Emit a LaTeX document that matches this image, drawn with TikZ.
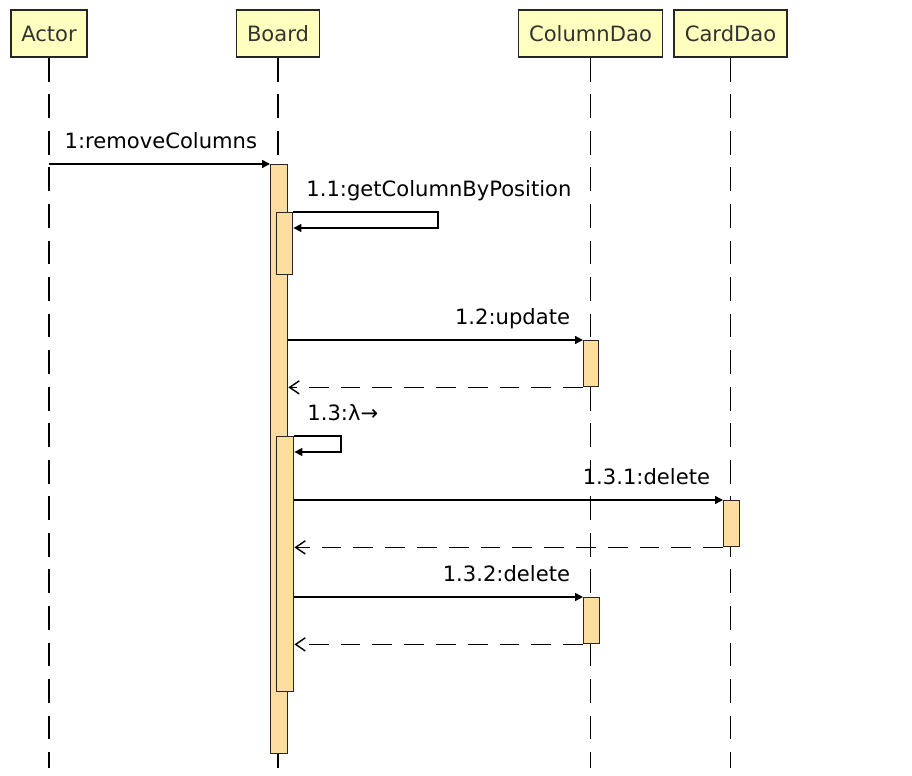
\documentclass[tikz,border=0pt]{standalone}
\usepackage{fontspec}
\setmainfont{DejaVu Sans}
\usetikzlibrary{arrows.meta}
\definecolor{hdrfill}{RGB}{255,255,192}
\definecolor{actfill}{RGB}{254,222,160}
\definecolor{hdrtext}{RGB}{51,51,51}

\begin{document}
\begin{tikzpicture}[x=0.02cm,y=-0.02cm,
  hdr/.style={draw=black!85,fill=hdrfill,text=hdrtext,line width=0.9pt,minimum height=0.94cm,inner xsep=6pt,font=\fontsize{12}{14}\selectfont},
  life/.style={line width=1pt,dash pattern=on 13.6pt off 7.2pt},
  act/.style={draw=black!85,fill=actfill,line width=0.8pt,inner sep=0pt,minimum width=0.32cm,anchor=north west},
  msg/.style={line width=0.8pt,-{Triangle[length=4.5pt,width=4.5pt]}},
  ret/.style={line width=0.8pt,dash pattern=on 11.3pt off 6.8pt,-{Straight Barb[length=5.5pt,width=7.5pt]}},
  lbll/.style={font=\fontsize{12}{14}\selectfont,inner sep=0pt,anchor=base east,xshift=-7pt,yshift=9pt},
  lblr/.style={font=\fontsize{12}{14}\selectfont,inner sep=0pt,anchor=base west,xshift=7pt,yshift=9pt}]

  \useasboundingbox (0,0) rectangle (912,776);

  \node[hdr] (actor) at (49,33.5) {Actor};
  \node[hdr] (board) at (278,33.5) {Board};
  \node[hdr] (coldao) at (590.5,33.5) {ColumnDao};
  \node[hdr] (carddao) at (730.5,33.5) {CardDao};

  \coordinate (bot) at (0,768);
  \foreach \n in {actor,board,coldao,carddao}
    \draw[life] (\n.south) -- (\n.south |- bot);

  \node[act,minimum width=0.34cm,minimum height=11.78cm] (b0) at (270,164) {};
  \node[act,minimum height=1.24cm] (b1) at (276,212) {};
  \node[act,minimum width=0.3cm,minimum height=0.92cm] (c1) at (583,340) {};
  \node[act,minimum width=0.34cm,minimum height=5.1cm] (b2) at (276,436) {};
  \node[act,minimum height=0.92cm] (k1) at (723,500) {};
  \node[act,minimum height=0.92cm] (c2) at (583,597) {};

  \draw[msg] (actor.south |- b0.north) -- (b0.north west) node[lbll] {1:removeColumns};

  \coordinate (l1) at (438,228);
  \draw[msg] (b1.north east) node[lblr] {1.1:getColumnByPosition} -| (l1) -- (b1.east |- l1);

  \draw[msg] (b0.east |- c1.north) -- (c1.north west) node[lbll] {1.2:update};
  \draw[ret] (c1.south west) -- (b0.east |- c1.south);

  \coordinate (l2) at (341,452);
  \draw[msg] (b2.north east) node[lblr] {1.3:λ→} -| (l2) -- (b2.east |- l2);

  \draw[msg] (b2.east |- k1.north) -- (k1.north west) node[lbll] {1.3.1:delete};
  \draw[ret] (k1.south west) -- (b2.east |- k1.south);

  \draw[msg] (b2.east |- c2.north) -- (c2.north west) node[lbll] {1.3.2:delete};
  \draw[ret] (c2.south west) -- (b2.east |- c2.south);
\end{tikzpicture}
\end{document}
